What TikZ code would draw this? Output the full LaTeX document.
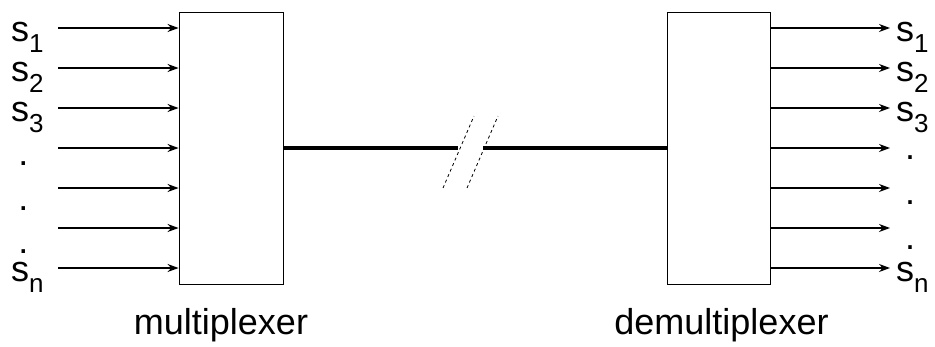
\documentclass[tikz,border=0pt]{standalone}
\usepackage{fontspec}
\setmainfont{Liberation Sans}
\usetikzlibrary{arrows.meta,positioning}
\newcommand{\sig}[1]{s\raisebox{-11pt}{\fontsize{26}{26}\selectfont #1}}

\begin{document}
\begin{tikzpicture}[x=1pt, y=-1pt,
  box/.style={draw, line width=0.9pt, minimum width=104pt, minimum height=272pt, inner sep=0pt},
  sigline/.style={line width=1.1pt, -{Stealth[length=11pt,width=8pt]}},
  trunk/.style={line width=4pt},
  cut/.style={line width=0.8pt, dash pattern=on 3pt off 3pt},
  lbl/.style={font=\fontsize{36}{40}\selectfont, inner sep=0pt}]
  \useasboundingbox (0,0) rectangle (935,346);

  \node[box] (mux) at (231,148) {};
  \node[box, minimum width=103pt] (demux) at (718.5,148) {};

  % signal lines in and out
  \foreach \i in {0,...,6} {
    \coordinate (in\i) at (58,28+40*\i);
    \draw[sigline] (in\i) -- (in\i -| mux.west);
    \coordinate (out\i) at (890,28+40*\i);
    \draw[sigline] (out\i -| demux.east) -- (out\i);
  }

  % left labels
  \node[lbl, anchor=base west] (ls1) at (11,41) {\sig{1}};
  \node[lbl, anchor=base west] (ls2) at (11,81) {\sig{2}};
  \node[lbl, anchor=base west] (ls3) at (11,121) {\sig{3}};
  \node[lbl, anchor=base west] (lsn) at (11,281) {\sig{n}};
  \node[lbl] (ldot1) at (23.5,164) {.};
  \node[lbl] (ldot2) at (23.5,209) {.};
  \node[lbl] (ldot3) at (23.5,252) {.};

  % right labels
  \node[lbl, anchor=base west] (rs1) at (896,41) {\sig{1}};
  \node[lbl, anchor=base west] (rs2) at (896,81) {\sig{2}};
  \node[lbl, anchor=base west] (rs3) at (896,121) {\sig{3}};
  \node[lbl, anchor=base west] (rsn) at (896,281) {\sig{n}};
  \node[lbl] (rdot1) at (910,158) {.};
  \node[lbl] (rdot2) at (910,203) {.};
  \node[lbl] (rdot3) at (910,248) {.};

  % the link, broken in the middle
  \coordinate (brkl) at (458,148);
  \coordinate (brkr) at (483,148);
  \draw[trunk] (mux.east) -- (brkl);
  \draw[trunk] (brkr) -- (demux.west);
  \draw[cut] (443,188) -- (474,116);
  \draw[cut] (467,188) -- (498,116);

  \node[lbl, anchor=base] (muxname) at (221,334) {multiplexer};
  \node[lbl, anchor=base] (demuxname) at (721.5,334) {demultiplexer};
\end{tikzpicture}
\end{document}
